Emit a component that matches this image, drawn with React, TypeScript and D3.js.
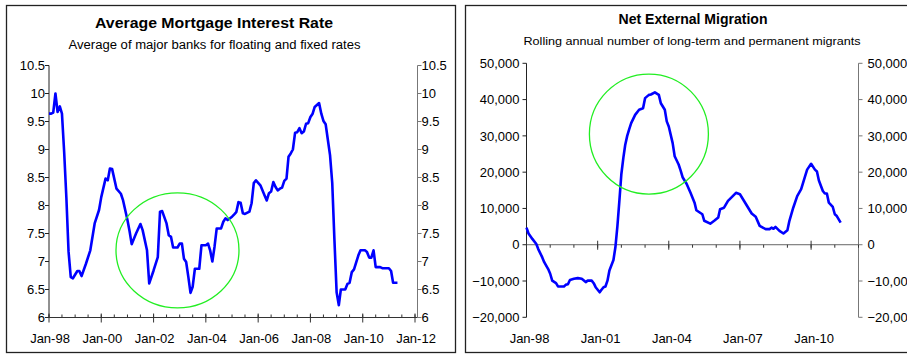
import React from "react";
import * as d3 from "d3";

// ---- Left chart data: Average Mortgage Interest Rate (months since Jan-98) ----
const rateMonths = [
  0, 1, 2, 3, 4, 5, 6, 7, 8, 9,
  10, 11, 13, 14, 15, 17, 19, 21, 23, 24,
  26, 27, 28, 29, 31, 33, 34, 36, 37, 38,
  40, 42, 43, 45, 46, 48, 50, 51, 52, 54,
  55, 56, 57, 59, 60, 61, 62, 63, 64, 65,
  66, 67, 69, 70, 72, 73, 74, 75, 76, 77,
  79, 80, 81, 82, 84, 85, 86, 87, 88, 89,
  90, 92, 93, 94, 95, 97, 99, 100, 101, 102,
  103, 104, 105, 106, 107, 108, 109, 110, 111, 112,
  113, 114, 115, 116, 117, 118, 119, 120, 121, 122,
  124, 125, 126, 127, 128, 129, 130, 131, 132, 133,
  134, 136, 137, 138, 139, 140, 142, 143, 145, 146,
  147, 148, 149, 150, 152, 153, 156, 157, 158, 160,
];
const rateValues = [
  9.64, 9.64, 9.66, 10.0, 9.67, 9.77, 9.64, 8.95, 8.13, 7.18,
  6.72, 6.7, 6.83, 6.83, 6.74, 6.96, 7.2, 7.68, 7.92, 8.15,
  8.48, 8.45, 8.66, 8.65, 8.3, 8.21, 8.09, 7.74, 7.53, 7.31,
  7.5, 7.67, 7.56, 7.2, 6.61, 6.84, 7.08, 7.89, 7.9, 7.68,
  7.47, 7.44, 7.25, 7.25, 7.32, 7.32, 7.05, 6.99, 6.73, 6.44,
  6.55, 6.87, 6.87, 7.29, 7.29, 7.32, 7.2, 7.0, 7.26, 7.59,
  7.59, 7.71, 7.77, 7.74, 7.8, 7.84, 7.88, 8.06, 8.05, 7.86,
  7.85, 7.89, 8.04, 8.4, 8.45, 8.36, 8.18, 8.09, 8.22, 8.25,
  8.42, 8.33, 8.27, 8.3, 8.32, 8.44, 8.48, 8.87, 8.93, 9.0,
  9.3, 9.31, 9.38, 9.29, 9.32, 9.46, 9.47, 9.58, 9.64, 9.76,
  9.83, 9.64, 9.51, 9.45, 9.17, 8.9, 8.4, 7.4, 6.45, 6.22,
  6.5, 6.5, 6.6, 6.62, 6.81, 6.86, 7.11, 7.2, 7.2, 7.17,
  7.07, 7.07, 7.2, 6.9, 6.9, 6.88, 6.88, 6.83, 6.62, 6.62,
];
const rateTicks = [6, 6.5, 7, 7.5, 8, 8.5, 9, 9.5, 10, 10.5];
const rateYearLabels = [1998, 2000, 2002, 2004, 2006, 2008, 2010, 2012];

// ---- Right chart data: Net External Migration (thousands, months since Jan-98) ----
const migMonths = [
  0, 1, 3, 5, 6, 8, 9, 11, 12, 13,
  15, 16, 19, 20, 21, 22, 24, 26, 28, 30,
  31, 33, 34, 35, 37, 38, 39, 40, 41, 42,
  44, 45, 46, 47, 48, 49, 50, 51, 52, 53,
  55, 57, 59, 60, 62, 63, 65, 67, 68, 70,
  71, 72, 74, 75, 77, 78, 79, 81, 83, 85,
  86, 89, 90, 93, 95, 97, 98, 100, 102, 104,
  106, 108, 110, 112, 114, 116, 118, 121, 123, 124,
  125, 126, 128, 130, 132, 133, 135, 137, 139, 141,
  142, 144, 146, 147, 148, 150, 151, 152, 153, 155,
  156, 157, 159,
];
const migValues = [
  4.7, 3.1, 1.6, 0.2, -1.2, -3.5, -4.8, -6.7, -8.0, -9.9,
  -10.6, -11.5, -11.5, -11.0, -10.9, -9.7, -9.4, -9.2, -9.4, -10.3,
  -9.9, -9.9, -10.6, -11.7, -13.1, -12.4, -11.7, -11.5, -9.9, -7.1,
  -4.2, -0.7, 5.1, 12.0, 19.5, 24.0, 27.5, 30.0, 31.8, 33.5,
  35.8, 37.2, 37.6, 40.4, 41.3, 41.4, 42.0, 41.3, 39.0, 37.2,
  34.0, 32.6, 28.0, 24.4, 22.1, 20.5, 18.6, 16.8, 14.3, 11.6,
  9.5, 8.4, 6.6, 5.8, 6.6, 7.5, 9.8, 10.2, 12.1, 13.2,
  14.3, 13.9, 12.2, 10.4, 8.6, 7.7, 5.2, 4.3, 4.3, 4.7,
  4.4, 4.9, 3.8, 3.1, 4.0, 6.6, 10.2, 13.4, 15.3, 18.9,
  20.7, 22.3, 20.7, 20.2, 17.7, 14.8, 14.1, 14.1, 11.6, 10.4,
  8.4, 7.9, 6.1,
];
const migTicks = [-20000, -10000, 0, 10000, 20000, 30000, 40000, 50000];
const migYearLabels = [1998, 2001, 2004, 2007, 2010];

const FONT = "'Liberation Sans', Arial, Helvetica, sans-serif";
const start = new Date(1998, 0, 1);
const end = new Date(2012, 0, 1);
const monthDate = (m: number) => d3.timeMonth.offset(start, m);
const yr = (y: number) => new Date(y, 0, 1);
const lbl = d3.timeFormat("%b-%y");
const TICK_FS = 13;

function LeftChart() {
  const x = d3.scaleTime().domain([start, end]).range([49, 415]);
  const y = d3.scaleLinear().domain([6, 10.5]).range([317.5, 65.5]);
  const xL = 49, xR = 417.5, yB = 317.5;
  const line = d3
    .line<number>()
    .x((_, i) => x(monthDate(rateMonths[i])))
    .y((d) => y(d));
  const minor = d3.timeMonth.every(6)!.range(start, d3.timeDay.offset(end, 1));
  const major = rateYearLabels.map(yr);
  return (
    <g fontFamily={FONT}>
      <rect x={6.5} y={5.5} width={449} height={347} fill="white" stroke="#222" strokeWidth={1.3} />
      <text x={214} y={28} textAnchor="middle" fontWeight="bold" fontSize={15.5} textLength={238} lengthAdjust="spacingAndGlyphs" fill="#000">
        Average Mortgage Interest Rate
      </text>
      <text x={214.5} y={49} textAnchor="middle" fontSize={12} textLength={292} lengthAdjust="spacingAndGlyphs" fill="#000">
        Average of major banks for floating and fixed rates
      </text>
      {/* axes */}
      <line x1={xL} x2={xL} y1={y(10.5)} y2={yB} stroke="#222" />
      <line x1={xR} x2={xR} y1={y(10.5)} y2={yB} stroke="#777" />
      <line x1={xL} x2={xR} y1={yB} y2={yB} stroke="#333" />
      {rateTicks.map((t) => (
        <g key={t}>
          <line x1={xL - 4} x2={xL} y1={y(t)} y2={y(t)} stroke="#222" />
          <line x1={xR} x2={xR + 4} y1={y(t)} y2={y(t)} stroke="#777" />
          <text x={xL - 4} y={y(t)} dy="0.36em" textAnchor="end" fontSize={TICK_FS} fill="#000">{t}</text>
          <text x={xR + 4} y={y(t)} dy="0.36em" textAnchor="start" fontSize={TICK_FS} fill="#000">{t}</text>
        </g>
      ))}
      {minor.map((d, i) => (
        <line key={i} x1={x(d)} x2={x(d)} y1={yB - 3} y2={yB} stroke="#333" />
      ))}
      {major.map((d, i) => (
        <g key={i}>
          <line x1={x(d)} x2={x(d)} y1={yB - 4} y2={yB + 5} stroke="#333" />
          <text x={x(d) + 1} y={343} textAnchor="middle" fontSize={TICK_FS} fill="#000">{lbl(d)}</text>
        </g>
      ))}
      <path d={line(rateValues) || ""} fill="none" stroke="#0000ff" strokeWidth={2.6} strokeLinejoin="round" />
      <ellipse cx={x(monthDate(59))} cy={y(7.2)} rx={61.5} ry={57.5} fill="none" stroke="#22ee22" strokeWidth={1.3} />
    </g>
  );
}

function RightChart() {
  const x = d3.scaleTime().domain([start, end]).range([526.5, 858.5]);
  const y = d3.scaleLinear().domain([-20000, 50000]).range([317.3, 63.3]);
  const xL = 526.5, xR = 858.5, yB = y(0);
  const line = d3
    .line<number>()
    .x((_, i) => x(monthDate(migMonths[i])))
    .y((d) => y(d * 1000));
  const minor = d3.timeYear.every(1)!.range(start, d3.timeDay.offset(end, 1));
  const major = migYearLabels.map(yr);
  const fmt = d3.format(",");
  return (
    <g fontFamily={FONT}>
      <rect x={465.5} y={5.5} width={460} height={347} fill="white" stroke="#222" strokeWidth={1.3} />
      <text x={693} y={24} textAnchor="middle" fontWeight="bold" fontSize={14} textLength={149} lengthAdjust="spacingAndGlyphs" fill="#000">
        Net External Migration
      </text>
      <text x={692} y={45} textAnchor="middle" fontSize={11.5} textLength={337} lengthAdjust="spacingAndGlyphs" fill="#000">
        Rolling annual number of long-term and permanent migrants
      </text>
      <line x1={xL} x2={xL} y1={y(50000)} y2={y(-20000)} stroke="#222" />
      <line x1={xR} x2={xR} y1={y(50000)} y2={y(-20000)} stroke="#777" />
      <line x1={xL} x2={xR} y1={yB} y2={yB} stroke="#666" />
      {migTicks.map((t) => (
        <g key={t}>
          <line x1={xL - 4} x2={xL} y1={y(t)} y2={y(t)} stroke="#222" />
          <line x1={xR} x2={xR + 4} y1={y(t)} y2={y(t)} stroke="#777" />
          <text x={xL - 7} y={y(t)} dy="0.36em" textAnchor="end" fontSize={TICK_FS} fill="#000">{fmt(t)}</text>
          <text x={xR + 9} y={y(t)} dy="0.36em" textAnchor="start" fontSize={TICK_FS} fill="#000">{fmt(t)}</text>
        </g>
      ))}
      {minor.map((d, i) => (
        <line key={i} x1={x(d)} x2={x(d)} y1={yB} y2={yB + 3} stroke="#333" />
      ))}
      {major.map((d, i) => (
        <g key={i}>
          <line x1={x(d)} x2={x(d)} y1={yB - 4} y2={yB + 5} stroke="#333" />
          <text x={x(d) + 3} y={343} textAnchor="middle" fontSize={TICK_FS} fill="#000">{lbl(d)}</text>
        </g>
      ))}
      <path d={line(migValues) || ""} fill="none" stroke="#0000ff" strokeWidth={2.6} strokeLinejoin="round" />
      <ellipse cx={x(monthDate(62))} cy={y(30500)} rx={59.5} ry={60} fill="none" stroke="#22ee22" strokeWidth={1.3} />
    </g>
  );
}

export default function App() {
  return (
    <svg width={907} height={354} style={{ position: "absolute", left: 0, top: 0, background: "white" }}>
      <rect x={0} y={0} width={907} height={354} fill="white" />
      <LeftChart />
      <RightChart />
    </svg>
  );
}
